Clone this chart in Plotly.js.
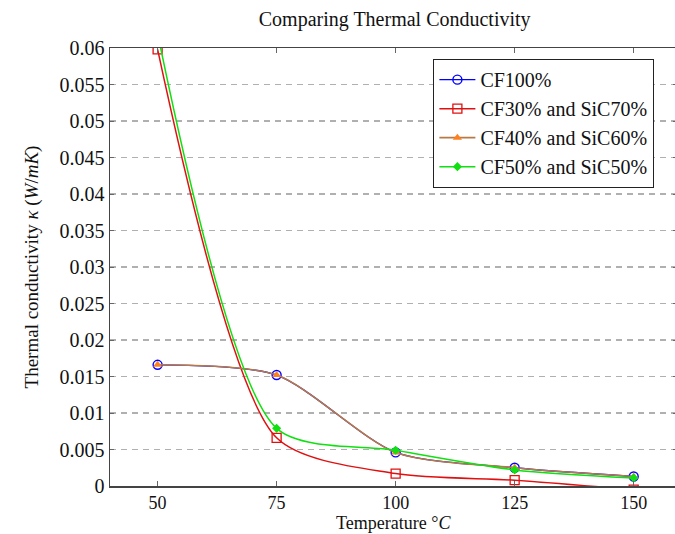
<!DOCTYPE html>
<html>
<head>
<meta charset="utf-8">
<script src="https://cdn.plot.ly/plotly-3.0.1.min.js"></script>
<style>
html,body{margin:0;padding:0;overflow:hidden;background:#fff;}
#chart{width:677px;height:534px;}
</style>
</head>
<body>
<div id="chart"></div>
<script>
const temperature = [50, 75, 100, 125, 150];
const cf100 = [0.0166, 0.0152, 0.0046, 0.0025, 0.0013];
const cf30sic70 = [0.0598, 0.0066, 0.0017, 0.0008, -0.0005];
const cf40sic60 = [0.0166, 0.0152, 0.0046, 0.0025, 0.0013];
const cf50sic50 = [0.0620, 0.0079, 0.0049, 0.0022, 0.0011];
const seriesNames = ['CF100%', 'CF30% and SiC70%', 'CF40% and SiC60%', 'CF50% and SiC50%'];
const yTicks = [0, 0.005, 0.01, 0.015, 0.02, 0.025, 0.03, 0.035, 0.04, 0.045, 0.05, 0.055, 0.06];
const xTicks = [50, 75, 100, 125, 150];
const xTitle = 'Temperature °<i>C</i>';
const yTitle = 'Thermal conductivity <i>κ</i> (<i>W</i>/<i>mK</i>)';
const chartTitle = 'Comparing Thermal Conductivity';

const font = '"Liberation Serif", "Times New Roman", Times, serif';

const traces = [
  {x: temperature, y: cf100, name: seriesNames[0], mode: 'lines+markers',
   line: {color: '#0000ff', width: 1.3, shape: 'spline', smoothing: 0.75},
   marker: {symbol: 'circle-open', size: 9, color: '#0000ff', line: {width: 1.4, color: '#0000ff'}}},
  {x: temperature, y: cf30sic70, name: seriesNames[1], mode: 'lines+markers',
   line: {color: '#e01010', width: 1.5, shape: 'spline', smoothing: 0.75},
   marker: {symbol: 'square-open', size: 9, color: '#e01010', line: {width: 1.3, color: '#e01010'}}},
  {x: temperature, y: cf40sic60, name: seriesNames[2], mode: 'lines+markers',
   line: {color: '#b87a45', width: 1.6, shape: 'spline', smoothing: 0.75},
   marker: {symbol: 'triangle-up', size: 8, color: '#ff8020', line: {width: 0}}},
  {x: temperature, y: cf50sic50, name: seriesNames[3], mode: 'lines+markers',
   line: {color: '#10e010', width: 1.5, shape: 'spline', smoothing: 0.75},
   marker: {symbol: 'diamond', size: 7, color: '#10e010', line: {width: 0}}}
];

const layout = {
  width: 677, height: 534,
  margin: {l: 110, r: 0, t: 48, b: 48},
  paper_bgcolor: '#fff', plot_bgcolor: '#fff',
  font: {family: font, color: '#111', size: 19},
  title: {text: chartTitle, font: {family: font, size: 20, color: '#111'},
          x: 0.583, xanchor: 'center', y: 0.965, yanchor: 'middle'},
  xaxis: {
    range: [40, 159.1], tickvals: xTicks, ticktext: xTicks.map(String),
    showgrid: false, zeroline: false, showline: true, linecolor: '#444', linewidth: 1.5,
    mirror: 'ticks', ticks: 'inside', ticklen: 5, tickcolor: '#666', tickwidth: 1,
    tickfont: {family: font, size: 18, color: '#111'}
  },
  yaxis: {
    range: [0, 0.06], tickvals: yTicks, ticktext: yTicks.map(v => String(v)),
    showgrid: true, gridcolor: '#b0b0b0', griddash: '6px,5px', gridwidth: 1.3,
    zeroline: false, showline: true, linecolor: '#444', linewidth: 1.5,
    mirror: 'ticks', ticks: 'inside', ticklen: 4, tickcolor: '#666', tickwidth: 1,
    tickfont: {family: font, size: 20, color: '#111'},
    title: {text: yTitle, font: {family: font, size: 19, color: '#111'}, standoff: 16}
  },
  annotations: [
    {text: xTitle, xref: 'paper', yref: 'paper', x: 0.5, y: -0.1096, xanchor: 'center', yanchor: 'bottom',
     showarrow: false, borderpad: 0, font: {family: font, size: 18, color: '#111'}}
  ],
  legend: {
    x: 0.57, y: 0.975, xanchor: 'left', yanchor: 'top',
    bgcolor: '#fff', bordercolor: '#222', borderwidth: 1.2,
    font: {family: font, size: 20, color: '#111'},
    tracegroupgap: 0, itemwidth: 36
  },
  showlegend: true
};

Plotly.newPlot('chart', traces, layout, {displayModeBar: false, staticPlot: true});
</script>
</body>
</html>
